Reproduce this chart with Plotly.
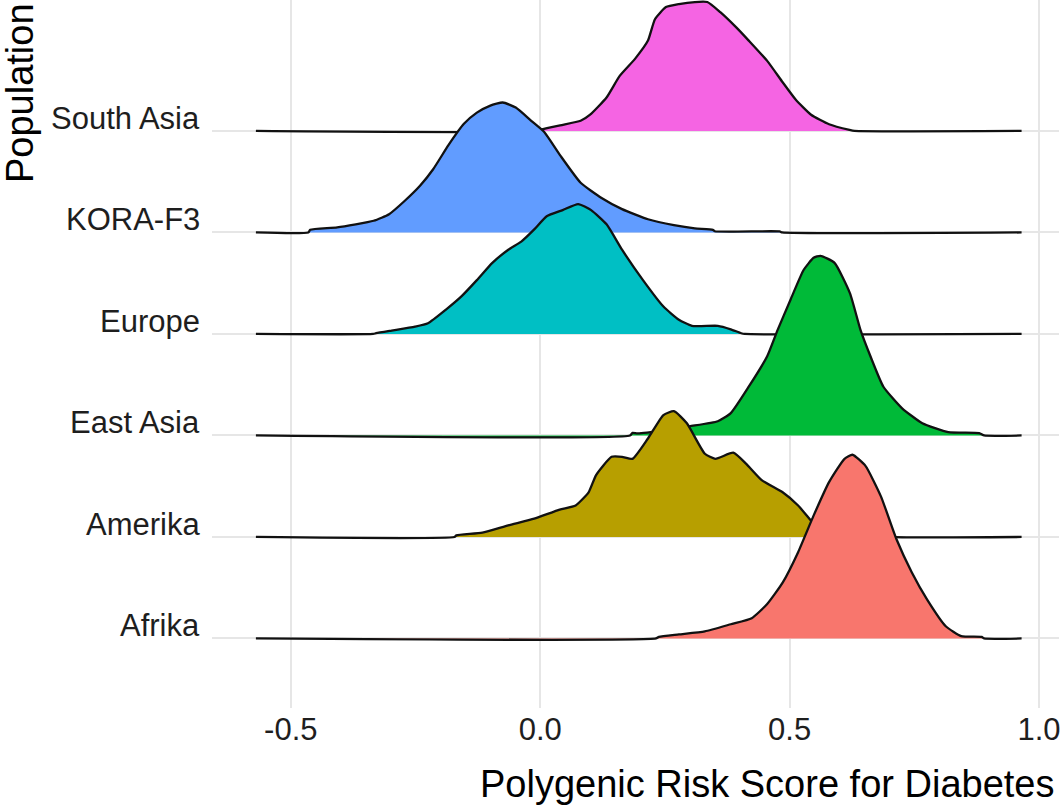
import plotly.graph_objects as go

# Populations, bottom to top
populations = ["Afrika", "Amerika", "East Asia", "Europe", "KORA-F3", "South Asia"]
colors = ["#F8766D", "#B79F00", "#00BA38", "#00BFC4", "#619CFF", "#F564E3"]

# Common range over which every density is evaluated
score_min = -0.57
score_max = 0.965

# Density curves: score values and scaled ridge heights
afrika_x = [0.232, 0.238, 0.278, 0.33, 0.382, 0.424, 0.455, 0.486, 0.517, 0.548, 0.579,
            0.61, 0.626, 0.652, 0.683, 0.714, 0.745, 0.776, 0.813, 0.844, 0.885, 0.89]
afrika_h = [0.0, 0.016, 0.04, 0.07, 0.14, 0.2, 0.34, 0.55, 0.85, 1.21, 1.54,
            1.77, 1.81, 1.70, 1.40, 0.98, 0.65, 0.38, 0.12, 0.023, 0.015, 0.0]

amerika_x = [-0.172, -0.168, -0.116, -0.064, -0.012, 0.039, 0.071, 0.097, 0.112, 0.143,
             0.164, 0.185, 0.216, 0.247, 0.268, 0.294, 0.33, 0.351, 0.387, 0.413, 0.444,
             0.486, 0.517, 0.548, 0.569, 0.60, 0.70, 0.705]
amerika_h = [0.0, 0.016, 0.043, 0.115, 0.18, 0.27, 0.31, 0.44, 0.61, 0.79,
             0.79, 0.77, 0.97, 1.20, 1.24, 1.12, 0.82, 0.77, 0.83, 0.72, 0.56,
             0.44, 0.31, 0.13, 0.03, 0.015, 0.01, 0.0]

east_asia_x = [0.18, 0.185, 0.195, 0.25, 0.299, 0.356, 0.382, 0.418, 0.455, 0.476, 0.502,
               0.528, 0.548, 0.562, 0.59, 0.621, 0.642, 0.662, 0.688, 0.725, 0.766,
               0.818, 0.88, 0.89]
east_asia_h = [0.0, 0.025, 0.02, 0.05, 0.09, 0.14, 0.22, 0.48, 0.78, 1.04, 1.34,
               1.63, 1.75, 1.77, 1.70, 1.40, 1.04, 0.78, 0.48, 0.27, 0.12,
               0.033, 0.023, 0.0]

europe_x = [-0.335, -0.329, -0.298, -0.251, -0.225, -0.189, -0.158, -0.127, -0.096, -0.064,
            -0.038, -0.012, 0.013, 0.045, 0.076, 0.102, 0.133, 0.164, 0.206, 0.247,
            0.278, 0.304, 0.356, 0.382, 0.403, 0.41]
europe_h = [0.0, 0.007, 0.033, 0.072, 0.105, 0.24, 0.37, 0.53, 0.70, 0.83,
            0.91, 1.03, 1.16, 1.22, 1.28, 1.22, 1.08, 0.83, 0.53, 0.27,
            0.14, 0.08, 0.08, 0.046, 0.007, 0.0]

kora_x = [-0.465, -0.461, -0.407, -0.334, -0.303, -0.272, -0.241, -0.215, -0.184, -0.153,
          -0.127, -0.10, -0.075, -0.049, -0.018, 0.008, 0.04, 0.081, 0.123, 0.164,
          0.216, 0.268, 0.31, 0.346, 0.35, 0.48, 0.485]
kora_h = [0.0, 0.026, 0.05, 0.115, 0.18, 0.31, 0.46, 0.62, 0.86, 1.07,
          1.18, 1.25, 1.28, 1.23, 1.10, 0.99, 0.76, 0.49, 0.34, 0.23,
          0.13, 0.072, 0.04, 0.026, 0.012, 0.01, 0.0]

south_asia_x = [-0.002, 0.003, 0.04, 0.081, 0.10, 0.133, 0.159, 0.19, 0.216, 0.23, 0.252,
                0.278, 0.31, 0.335, 0.361, 0.393, 0.418, 0.455, 0.486, 0.512, 0.543,
                0.579, 0.62, 0.63]
south_asia_h = [0.0, 0.015, 0.056, 0.10, 0.16, 0.33, 0.54, 0.71, 0.89, 1.10, 1.22,
                1.25, 1.27, 1.27, 1.17, 1.02, 0.89, 0.69, 0.48, 0.31, 0.16,
                0.066, 0.01, 0.0]

ridge_x = [afrika_x, amerika_x, east_asia_x, europe_x, kora_x, south_asia_x]
ridge_h = [afrika_h, amerika_h, east_asia_h, europe_h, kora_h, south_asia_h]

x_ticks = [-0.5, 0.0, 0.5, 1.0]
x_tick_labels = ["-0.5", "0.0", "0.5", "1.0"]

FONT = "Liberation Sans, Arial, sans-serif"

fig = go.Figure()

# Draw the top ridge first so lower ridges overlap the ones above them
for idx in reversed(range(len(populations))):
    base = idx
    xs = [score_min] + list(ridge_x[idx]) + [score_max]
    ys = [base] + [base + h for h in ridge_h[idx]] + [base]
    # invisible baseline the filled area closes against
    fig.add_trace(go.Scatter(
        x=[score_min, score_max], y=[base, base], mode="lines",
        line=dict(width=0, color="rgba(0,0,0,0)"),
        hoverinfo="skip", showlegend=False,
    ))
    fig.add_trace(go.Scatter(
        x=xs, y=ys, mode="lines", name=populations[idx],
        fill="tonexty", fillcolor=colors[idx],
        line=dict(color="#111111", width=2.3, shape="spline", smoothing=0.5),
        showlegend=False,
    ))

# Population labels sit on their baselines
for idx, name in enumerate(populations):
    fig.add_annotation(
        x=0, xref="paper", y=idx, yref="y",
        text=name, showarrow=False, xanchor="right", yanchor="bottom",
        xshift=-10, yshift=-7,
        font=dict(family=FONT, size=31, color="#1E1E1E"),
    )

fig.add_annotation(
    x=-0.226, xref="paper", y=0.868, yref="paper",
    text="Population", textangle=-90, showarrow=False,
    xanchor="center", yanchor="middle",
    font=dict(family=FONT, size=38, color="#000000"),
)
fig.add_annotation(
    x=1.0, xref="paper", y=-0.107, yref="paper",
    text="Polygenic Risk Score for Diabetes", showarrow=False,
    xanchor="right", yanchor="middle", xshift=-3,
    font=dict(family=FONT, size=38, color="#000000"),
)

fig.update_layout(
    width=1061, height=810,
    margin=dict(l=212, r=0, t=0, b=102),
    paper_bgcolor="white", plot_bgcolor="white",
    showlegend=False,
)
fig.update_xaxes(
    range=[-0.658, 1.04], tickvals=x_ticks, ticktext=x_tick_labels,
    showgrid=True, gridcolor="#E6E6E6", gridwidth=1.5,
    zeroline=False, showline=False, ticks="",
    ticklabeloverflow="allow",
    tickfont=dict(family=FONT, size=31, color="#1E1E1E"),
)
fig.update_yaxes(
    range=[-0.685, 6.29], tickvals=list(range(len(populations))),
    showticklabels=False,
    showgrid=True, gridcolor="#E6E6E6", gridwidth=1.5,
    zeroline=False, showline=False, ticks="",
)

fig.write_html("out.html")
